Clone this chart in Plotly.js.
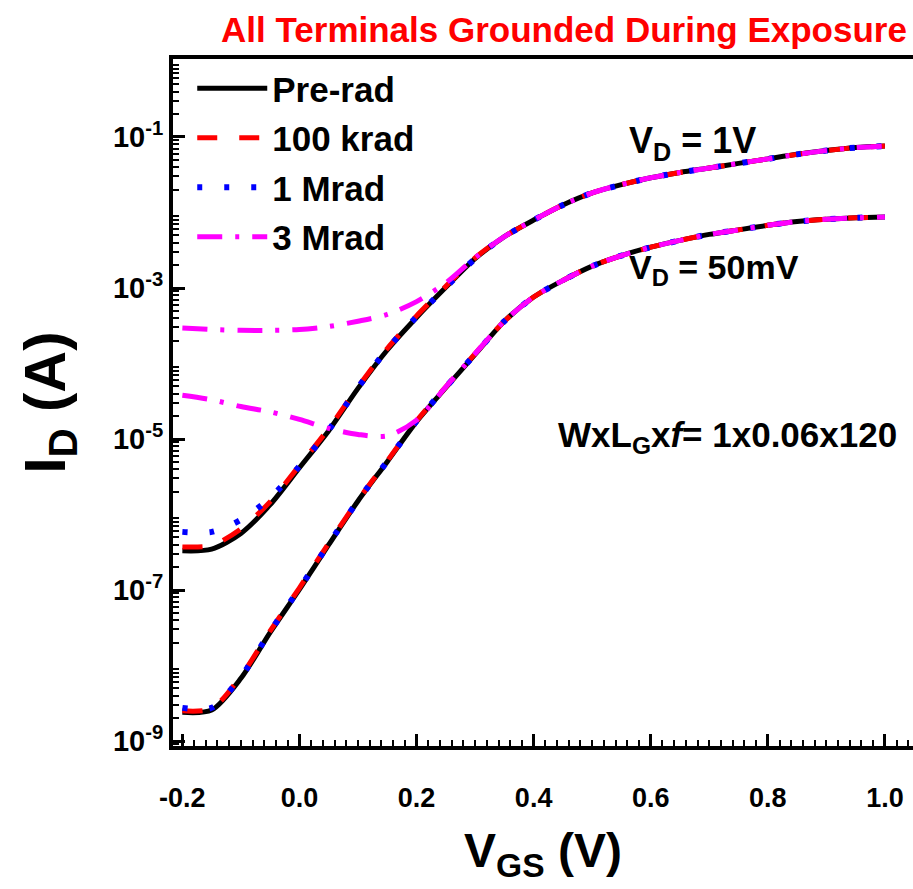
<!DOCTYPE html>
<html>
<head>
<meta charset="utf-8">
<script src="https://cdn.plot.ly/plotly-3.0.1.min.js"></script>
<style>html,body{margin:0;padding:0;background:#fff;}#chart{width:913px;height:889px;}</style>
</head>
<body>
<div id="chart"></div>
<script>
// Gate voltage grid (V)
const vgs = [-0.20,-0.15,-0.10,-0.05,0.00,0.05,0.10,0.15,0.20,0.25,0.30,0.35,0.40,0.45,0.50,0.55,0.60,0.65,0.70,0.75,0.80,0.85,0.90,0.95,1.00];

// V_D = 1 V curves (A)
const preRad_1V  = [3.31e-7,3.47e-7,5.62e-7,1.35e-6,4.17e-6,1.29e-5,4.68e-5,1.51e-4,4.07e-4,1.02e-3,2.45e-3,4.79e-3,7.94e-3,1.26e-2,1.82e-2,2.34e-2,2.88e-2,3.39e-2,3.89e-2,4.47e-2,5.13e-2,5.89e-2,6.61e-2,7.24e-2,7.59e-2];
const k100_1V    = [3.72e-7,3.89e-7,6.46e-7,1.48e-6,4.47e-6,1.38e-5,4.90e-5,1.58e-4,4.27e-4,1.05e-3,2.51e-3,4.79e-3,7.94e-3,1.26e-2,1.82e-2,2.34e-2,2.88e-2,3.39e-2,3.89e-2,4.47e-2,5.13e-2,5.89e-2,6.61e-2,7.24e-2,7.59e-2];
const M1_1V      = [5.89e-7,5.89e-7,8.51e-7,1.66e-6,4.37e-6,1.32e-5,4.79e-5,1.55e-4,4.17e-4,1.02e-3,2.45e-3,4.79e-3,7.94e-3,1.26e-2,1.82e-2,2.34e-2,2.88e-2,3.39e-2,3.89e-2,4.47e-2,5.13e-2,5.89e-2,6.61e-2,7.24e-2,7.59e-2];
const M3_1V      = [2.95e-4,2.82e-4,2.75e-4,2.75e-4,2.82e-4,3.09e-4,3.63e-4,4.47e-4,6.61e-4,1.17e-3,2.51e-3,4.79e-3,7.94e-3,1.26e-2,1.82e-2,2.34e-2,2.88e-2,3.39e-2,3.89e-2,4.47e-2,5.13e-2,5.89e-2,6.61e-2,7.24e-2,7.59e-2];

// V_D = 50 mV curves (A)
const preRad_50mV = [2.40e-9,2.57e-9,6.76e-9,2.75e-8,1.02e-7,3.98e-7,1.51e-6,5.01e-6,1.70e-5,4.79e-5,1.32e-4,3.63e-4,7.59e-4,1.26e-3,1.95e-3,2.69e-3,3.47e-3,4.27e-3,5.13e-3,5.89e-3,6.76e-3,7.59e-3,8.13e-3,8.51e-3,8.71e-3];
const k100_50mV   = [2.51e-9,2.69e-9,7.24e-9,2.88e-8,1.07e-7,4.17e-7,1.55e-6,5.13e-6,1.74e-5,4.90e-5,1.35e-4,3.63e-4,7.59e-4,1.26e-3,1.95e-3,2.69e-3,3.47e-3,4.27e-3,5.13e-3,5.89e-3,6.76e-3,7.59e-3,8.13e-3,8.51e-3,8.71e-3];
const M1_50mV     = [2.75e-9,2.75e-9,7.08e-9,2.82e-8,1.05e-7,4.07e-7,1.53e-6,5.07e-6,1.72e-5,4.85e-5,1.33e-4,3.63e-4,7.59e-4,1.26e-3,1.95e-3,2.69e-3,3.47e-3,4.27e-3,5.13e-3,5.89e-3,6.76e-3,7.59e-3,8.13e-3,8.51e-3,8.71e-3];
const M3_50mV     = [3.80e-5,3.31e-5,2.69e-5,2.29e-5,1.82e-5,1.38e-5,1.15e-5,1.10e-5,1.78e-5,4.90e-5,1.35e-4,3.63e-4,7.59e-4,1.26e-3,1.95e-3,2.69e-3,3.47e-3,4.27e-3,5.13e-3,5.89e-3,6.76e-3,7.59e-3,8.13e-3,8.51e-3,8.71e-3];

const seriesNames = ['Pre-rad','100 krad','1 Mrad','3 Mrad'];
const xTickVals = [-0.2,0.0,0.2,0.4,0.6,0.8,1.0];
const xTickText = ['-0.2','0.0','0.2','0.4','0.6','0.8','1.0'];
const yTickVals = [1e-9,1e-7,1e-5,1e-3,1e-1];
const yTickText = ['10<sup>-9</sup>','10<sup>-7</sup>','10<sup>-5</sup>','10<sup>-3</sup>','10<sup>-1</sup>'];
const yUnlabeledDecades = [1e-8,1e-6,1e-4,1e-2,1];

const FONT = 'Liberation Sans, Arial, sans-serif';
const styles = [
  {color:'#000000', width:5, dash:'solid'},
  {color:'#FF0000', width:5, dash:'20px,22px'},
  {color:'#0000FF', width:6, dash:'5px,22px'},
  {color:'#FF00FF', width:5, dash:'25px,13px,4px,13px'}
];
const set1V = [preRad_1V, k100_1V, M1_1V, M3_1V];
const set50 = [preRad_50mV, k100_50mV, M1_50mV, M3_50mV];

const traces = [];
for (let i = 0; i < 4; i++) {
  const ln = Object.assign({shape:'spline', smoothing:0.8}, styles[i]);
  traces.push({x:vgs, y:set1V[i], type:'scatter', mode:'lines', name:seriesNames[i], legendgroup:'g'+i, line:ln, showlegend:true});
  traces.push({x:vgs, y:set50[i], type:'scatter', mode:'lines', name:seriesNames[i], legendgroup:'g'+i, line:ln, showlegend:false});
}

// minor tick positions for log axis
const yMinor = [];
for (let e = -10; e <= 0; e++) for (let m = 2; m <= 9; m++) yMinor.push(m * Math.pow(10, e));

const yRange = [-9.066, 0.033];
const layout = {
  width:913, height:889,
  margin:{l:173, r:0, t:59, b:143},
  paper_bgcolor:'#fff', plot_bgcolor:'#fff',
  font:{family:FONT, color:'#000'},
  showlegend:true,
  title:{text:'All Terminals Grounded During Exposure', font:{family:FONT, size:35, color:'#FF0000', weight:'bold'}, x:564/913, xanchor:'center', xref:'container', y:0.966, yanchor:'middle'},
  legend:{x:0.026, y:1.0, xanchor:'left', yanchor:'top', bgcolor:'rgba(0,0,0,0)', borderwidth:0, itemwidth:70, font:{family:FONT, size:35, weight:'bold', color:'#000'}, traceorder:'grouped', tracegroupgap:1},
  xaxis:{
    range:[-0.216, 1.048], showgrid:false, zeroline:false,
    showline:true, linewidth:4, linecolor:'#000', mirror:true,
    tickmode:'array', tickvals:xTickVals, ticktext:xTickText,
    ticks:'inside', ticklen:12, tickwidth:3, tickcolor:'#000',
    ticklabelstandoff:25,
    tickfont:{family:FONT, size:27, weight:'bold', color:'#000'},
    minor:{ticks:'inside', ticklen:6, tickwidth:2, tickcolor:'#000', dtick:0.02, tick0:0, showgrid:false},
    title:{text:'V<sub>GS</sub> (V)', font:{family:FONT, size:48, weight:'bold', color:'#000'}, standoff:22}
  },
  yaxis:{
    type:'log', range:yRange, showgrid:false, zeroline:false,
    showline:true, linewidth:4, linecolor:'#000', mirror:false,
    tickmode:'array', tickvals:yTickVals, ticktext:yTickText,
    ticks:'inside', ticklen:12, tickwidth:3, tickcolor:'#000',
    tickfont:{family:FONT, size:29, weight:'bold', color:'#000'},
    minor:{ticks:'inside', ticklen:6, tickwidth:2, tickcolor:'#000', tickmode:'array', tickvals:yMinor, showgrid:false},
    title:{text:'I<sub>D</sub> (A)', font:{family:FONT, size:58, weight:'bold', color:'#000'}, standoff:30}
  },
  yaxis2:{
    type:'log', range:yRange, overlaying:'y', side:'left', anchor:'x',
    showgrid:false, zeroline:false, showline:false, showticklabels:false,
    tickmode:'array', tickvals:yUnlabeledDecades,
    ticks:'inside', ticklen:12, tickwidth:3, tickcolor:'#000'
  },
  annotations:[
    {xref:'paper', yref:'paper', x:0.614, y:0.878, xanchor:'left', yanchor:'middle', showarrow:false, text:'V<sub>D</sub> = 1V', font:{family:FONT, size:36, weight:'bold', color:'#000'}},
    {xref:'paper', yref:'paper', x:0.614, y:0.694, xanchor:'left', yanchor:'middle', showarrow:false, text:'V<sub>D</sub> = 50mV', font:{family:FONT, size:34, weight:'bold', color:'#000'}},
    {xref:'paper', yref:'paper', x:0.518, y:0.45, xanchor:'left', yanchor:'middle', showarrow:false, text:'WxL<sub>G</sub>x<i>f</i>= 1x0.06x120', font:{family:FONT, size:35, weight:'bold', color:'#000'}}
  ]
};

Plotly.newPlot('chart', traces, layout, {displayModeBar:false, staticPlot:true});
</script>
</body>
</html>
